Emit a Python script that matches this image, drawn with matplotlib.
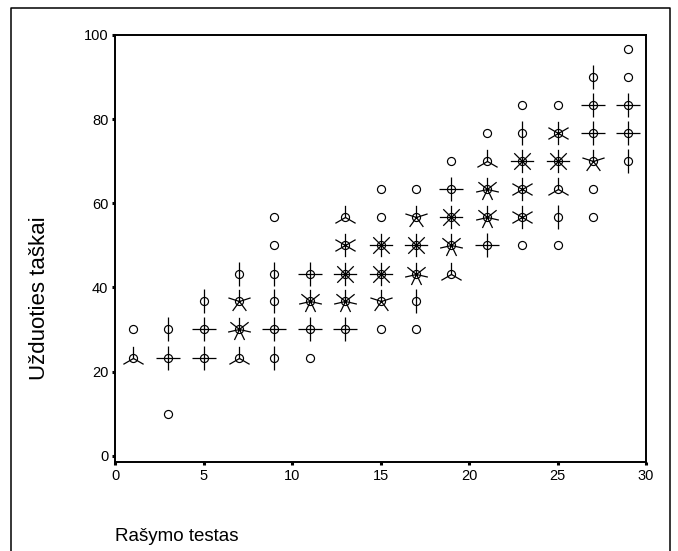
import numpy as np
import matplotlib
matplotlib.use("Agg")
import matplotlib.pyplot as plt
from matplotlib.path import Path
from matplotlib.lines import Line2D

plt.rcParams['font.family'] = ['Liberation Sans', 'DejaVu Sans']

# sunflower data: x, y and number of cases at that point (petals)
rasymas = [1, 1,
           3, 3, 3,
           5, 5, 5,
           7, 7, 7, 7,
           9, 9, 9, 9, 9, 9,
           11, 11, 11, 11,
           13, 13, 13, 13, 13,
           15, 15, 15, 15, 15, 15,
           17, 17, 17, 17, 17, 17,
           19, 19, 19, 19, 19,
           21, 21, 21, 21, 21,
           23, 23, 23, 23, 23, 23,
           25, 25, 25, 25, 25, 25,
           27, 27, 27, 27, 27, 27,
           29, 29, 29, 29, 29]
taskai = [23.3, 30,
          10, 23.3, 30,
          23.3, 30, 36.7,
          23.3, 30, 36.7, 43.3,
          23.3, 30, 36.7, 43.3, 50, 56.7,
          23.3, 30, 36.7, 43.3,
          30, 36.7, 43.3, 50, 56.7,
          30, 36.7, 43.3, 50, 56.7, 63.3,
          30, 36.7, 43.3, 50, 56.7, 63.3,
          43.3, 50, 56.7, 63.3, 70,
          50, 56.7, 63.3, 70, 76.7,
          50, 56.7, 63.3, 70, 76.7, 83.3,
          50, 56.7, 63.3, 70, 76.7, 83.3,
          56.7, 63.3, 70, 76.7, 83.3, 90,
          70, 76.7, 83.3, 90, 96.7]
kiekis = [3, 1,
          1, 4, 2,
          4, 4, 2,
          3, 7, 5, 2,
          2, 4, 2, 2, 1, 1,
          1, 4, 7, 4,
          4, 7, 8, 6, 3,
          1, 5, 8, 8, 1, 1,
          1, 2, 7, 8, 5, 1,
          3, 7, 8, 4, 1,
          4, 7, 7, 3, 1,
          1, 6, 6, 8, 2, 1,
          1, 2, 3, 8, 6, 1,
          1, 1, 5, 4, 4, 2,
          2, 4, 4, 1, 1]


def petal_marker(n):
    verts, codes = [], []
    for k in range(n):
        a = np.pi / 2 + 2 * np.pi * k / n
        verts += [(0, 0), (np.cos(a), np.sin(a))]
        codes += [Path.MOVETO, Path.LINETO]
    return Path(verts, codes)


W, H = 678, 551
fig = plt.figure(figsize=(W / 100, H / 100), dpi=100)
ax = fig.add_axes([115 / W, 1 - 462 / H, (646 - 115) / W, (462 - 35) / H])

x = np.array(rasymas)
y = np.array(taskai)
n = np.array(kiekis)

ax.plot(x, y, 'o', ms=5.8, mfc='none', mec='black', mew=0.85, ls='none')
for k in sorted(set(kiekis)):
    if k < 2:
        continue
    sel = n == k
    ax.plot(x[sel], y[sel], ls='none', marker=petal_marker(k), ms=16.8,
            mec='black', mfc='none', mew=0.9)

ax.set_xlim(0, 30)
ax.set_ylim(-1.5, 100)
ax.set_xticks([0, 5, 10, 15, 20, 25, 30])
ax.set_yticks([0, 20, 40, 60, 80, 100])
for s in ax.spines.values():
    s.set_linewidth(1.4)
ax.tick_params(direction='out', length=2.2, width=2.2, labelsize=10.5, pad=2.5)

fig.text(115 / W, 1 - 541 / H, "Rašymo testas", ha='left', va='baseline', fontsize=13.5)
fig.text(40 / W, 1 - 298 / H, "Užduoties taškai", ha='center', va='center',
         rotation=90, fontsize=16)

# outer frame
fx = [11 / W, 11 / W, 670 / W, 670 / W]
fy = [0, 1 - 8 / H, 1 - 8 / H, 0]
fig.add_artist(Line2D(fx, fy, transform=fig.transFigure, color='black', lw=1.1))

fig.savefig("out.png", dpi=100)
